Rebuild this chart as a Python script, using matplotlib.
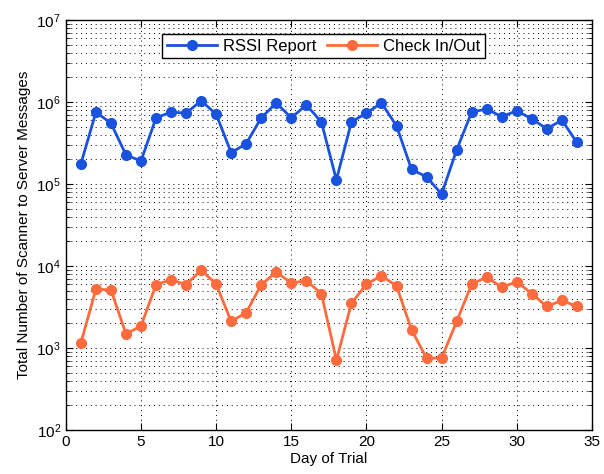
import numpy as np
import matplotlib
matplotlib.use("Agg")
import matplotlib.pyplot as plt
from matplotlib.ticker import LogLocator, MultipleLocator

plt.rcParams["font.family"] = ["Liberation Sans", "DejaVu Sans"]

days = list(range(1, 35))
rssi = [1.75e5, 7.5e5, 5.5e5, 2.26e5, 1.9e5, 6.4e5, 7.5e5, 7.3e5, 1.03e6, 7.1e5,
        2.4e5, 3.1e5, 6.4e5, 9.7e5, 6.4e5, 9.2e5, 5.7e5, 1.12e5, 5.7e5, 7.3e5,
        9.7e5, 5.1e5, 1.5e5, 1.22e5, 7.5e4, 2.6e5, 7.5e5, 8.2e5, 6.6e5, 7.8e5,
        6.2e5, 4.7e5, 6.0e5, 3.2e5]
checkin = [1.15e3, 5.2e3, 5.1e3, 1.48e3, 1.85e3, 5.9e3, 6.8e3, 5.9e3, 8.9e3, 6.0e3,
           2.1e3, 2.7e3, 5.9e3, 8.4e3, 6.2e3, 6.6e3, 4.6e3, 7.1e2, 3.5e3, 6.0e3,
           7.6e3, 5.7e3, 1.66e3, 7.5e2, 7.5e2, 2.1e3, 6.0e3, 7.3e3, 5.5e3, 6.4e3,
           4.6e3, 3.2e3, 3.8e3, 3.2e3]

fig = plt.figure(figsize=(6.04, 4.74), dpi=100)
ax = fig.add_axes([0.109, 0.093, 0.871, 0.865])

ax.plot(days, rssi, "-o", color="#1a52e0", lw=2, ms=7, label="RSSI Report")
ax.plot(days, checkin, "-o", color="#ff6b3d", lw=2, ms=7, label="Check In/Out")

ax.set_yscale("log")
ax.set_ylim(1e2, 1e7)
ax.set_xlim(0, 35)
ax.xaxis.set_major_locator(MultipleLocator(5))
ax.yaxis.set_major_locator(LogLocator(base=10, numticks=10))
ax.yaxis.set_minor_locator(LogLocator(base=10, subs=np.arange(2, 10), numticks=20))

ax.grid(True, which="major", axis="both", linestyle=(0, (1, 4)), color="black", lw=0.7)
ax.grid(True, which="minor", axis="y", linestyle=(0, (1, 4)), color="black", lw=0.7)
ax.tick_params(which="both", direction="in", top=True, right=True, labelsize=11)
ax.tick_params(which="major", length=5)
ax.tick_params(which="minor", length=3)
for s in ax.spines.values():
    s.set_linewidth(1)

ax.set_xlabel("Day of Trial", fontsize=11, labelpad=2)
ax.set_ylabel("Total Number of Scanner to Server Messages", fontsize=11)

leg = ax.legend(loc="upper center", bbox_to_anchor=(0.49, 0.985), ncol=2, fontsize=12,
                fancybox=False, edgecolor="black", framealpha=1, handlelength=3.0,
                columnspacing=0.6, handletextpad=0.4, borderpad=0.25)
leg.get_frame().set_linewidth(1)

fig.savefig("out.png", dpi=100)
